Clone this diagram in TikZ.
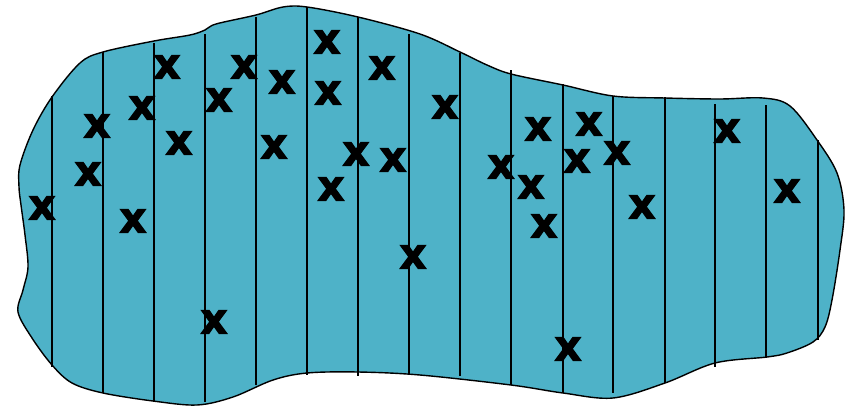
\documentclass[tikz,border=0pt]{standalone}
\usepackage{fontspec}
\newfontfamily\xfont{DejaVu Sans}[BoldFeatures={FakeBold=2.5}]
\definecolor{blobfill}{RGB}{78,178,200}
\tikzset{
  blob/.style={draw=black, line width=1.4pt, fill=blobfill},
  vline/.style={draw=black, line width=1.3pt},
  cross/.style={inner sep=0pt, outer sep=0pt, font={\fontsize{42}{42}\selectfont\xfont\bfseries}, text=black}
}
\begin{document}
\begin{tikzpicture}[x=1pt,y=-1pt]
\useasboundingbox (0,0) rectangle (851,407);
\draw[blob] plot[smooth cycle, tension=0.55] coordinates {
 (19,187) (20,165) (33,130) (52,97) (80,63) (103,52) (154,41) (190,35) (205,30) (216,24)
 (256,15) (283,7) (307,7) (358,17) (420,34) (460,52) (487,65) (511,74) (563,85)
 (613,96) (665,98) (720,99) (763,98) (790,106) (817,140) (837,173) (844,210)
 (840,250) (832,300) (825,327) (813,342) (787,353) (767,357) (715,363) (665,383)
 (613,398) (563,393) (511,385) (420,375) (358,372) (307,373) (273,380) (233,397)
 (197,405) (153,401) (103,393) (72,383) (52,365) (32,338) (18,312) (23,290)
 (28,267) (25,235) (21,205)};
\foreach \x/\a/\b in {52/96/367, 103/52/393, 154/43/402, 205/34/402, 256/17/385,
  307/7/375, 358/17/376, 409/34/375, 460/53/376, 511/70/385, 563/84/393,
  613/96/393, 665/97/383, 715/104/367, 766/105/358, 818/140/340}
  \draw[vline] (\x,\a) -- (\x,\b);
\foreach \i/\x/\y in {1/327/42, 2/167/67, 3/244/67, 4/282/82, 5/382/68, 6/328/93,
  7/97/126, 8/142/108, 9/219/100, 10/179/143, 11/274/147, 12/356/154, 13/393/160,
  14/331/189, 15/88/174, 16/42/208, 17/133/221, 18/214/322, 19/413/257,
  20/445/107, 21/538/129, 22/589/124, 23/501/167, 24/577/161, 25/617/153,
  26/531/187, 27/727/131, 28/787/191, 29/544/226, 30/642/207, 31/568/349}
  \node[cross] (m\i) at (\x,\y) {x};
\end{tikzpicture}
\end{document}
